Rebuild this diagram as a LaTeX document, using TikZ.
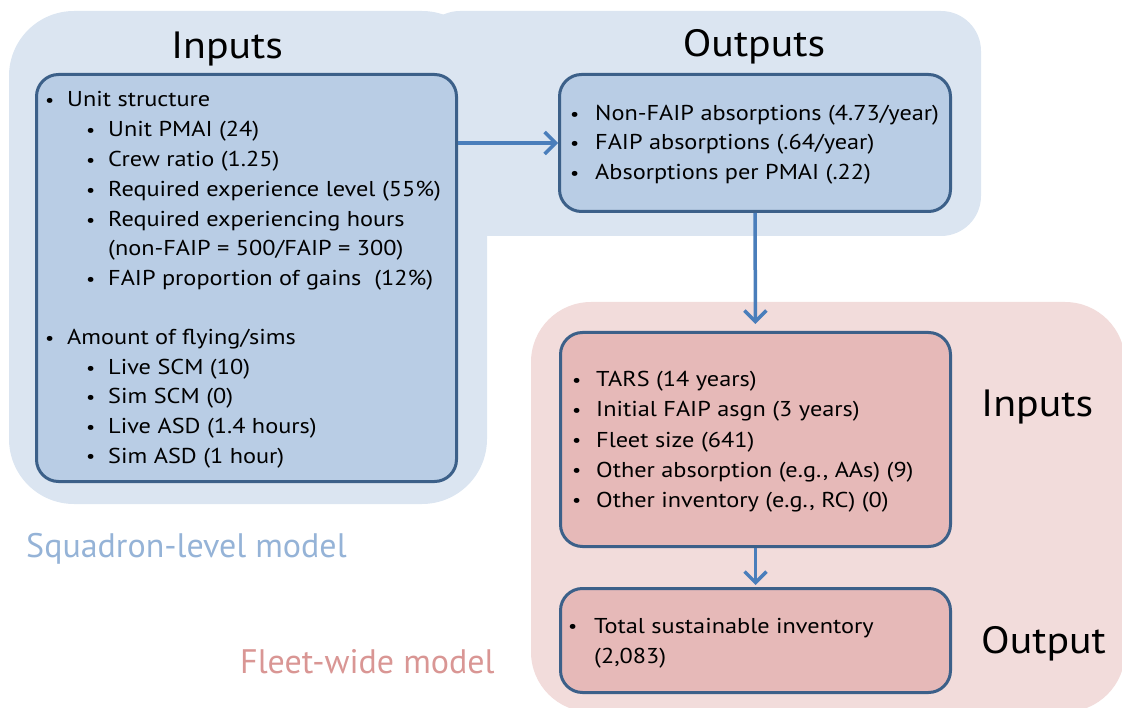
\documentclass[tikz,border=0pt]{standalone}
\usepackage{fontspec}
\setmainfont{PT Sans}
\newfontfamily\bodyfont{PT Sans}[FakeStretch=1.13]
\newfontfamily\titlefont{PT Sans}[FakeStretch=1.10]
\usetikzlibrary{arrows.meta}
\definecolor{bgblue}{HTML}{DBE5F1}
\definecolor{boxblue}{HTML}{B9CDE5}
\definecolor{edgeblue}{HTML}{3C6089}
\definecolor{arrowblue}{HTML}{4A7EBB}
\definecolor{bgpink}{HTML}{F2DCDB}
\definecolor{boxpink}{HTML}{E6B9B8}
\definecolor{lblblue}{HTML}{95B3D7}
\definecolor{lblpink}{HTML}{D99694}
\tikzset{
  panel/.style={draw=edgeblue, line width=3pt, rounded corners=22pt, inner sep=0pt, anchor=north west},
  ttl/.style={font=\titlefont\fontsize{38}{40}\selectfont, inner sep=0pt, anchor=base},
  txt/.style={font=\bodyfont\fontsize{21.5}{24}\selectfont, inner sep=0pt, anchor=base west},
  lbl/.style={font=\fontsize{34}{36}\selectfont, inner sep=0pt, anchor=base west},
  flow/.style={draw=arrowblue, line width=3.5pt, -{Straight Barb[length=11pt,width=22pt]}},
}
\newcommand{\itm}[2][22pt]{\makebox[#1][l]{\fontsize{18}{18}\selectfont\raisebox{0.5pt}{•}}#2}
\begin{document}
\begin{tikzpicture}[x=1pt,y=-1pt]
\useasboundingbox (0,0) rectangle (1122,708);
\clip (0,0) rectangle (1122,708);
% backgrounds
\fill[bgblue, rounded corners=65pt] (9,11) rectangle (487,504);
\fill[bgblue, rounded corners=40pt] (420,11) rectangle (981,236);
\fill[bgpink, rounded corners=60pt] (531,302) rectangle (1125,712);
% boxes
\node[panel, fill=boxblue, minimum width=420pt, minimum height=407pt] (inbox) at (35,73) {};
\node[panel, fill=boxblue, minimum width=391pt, minimum height=137pt] (outbox) at (558,73) {};
\node[panel, fill=boxpink, minimum width=390pt, minimum height=214pt] (finbox) at (559,331) {};
\node[panel, fill=boxpink, minimum width=390pt, minimum height=104pt] (foutbox) at (559,587) {};
% titles
\node[ttl] (t1) at (227,59) {Inputs};
\node[ttl] (t2) at (754,57) {Outputs};
\node[ttl, anchor=base west] (t3) at (981,417) {Inputs};
\node[ttl, anchor=base west] (t4) at (981,653) {Output};
\node[lbl, text=lblblue] (sq) at (26,557) {Squadron-level model};
\node[lbl, text=lblpink] (fl) at (240,673) {Fleet-wide model};
% inputs text
\node[txt] (i1) at (45,107) {\itm{Unit structure}};
\node[txt] (i2) at (86,137) {\itm{Unit PMAI (24)}};
\node[txt] (i3) at (86,167) {\itm{Crew ratio (1.25)}};
\node[txt] (i4) at (86,197) {\itm{Required experience level (55\%)}};
\node[txt] (i5) at (86,227) {\itm{Required experiencing hours}};
\node[txt] (i6) at (108,256) {(non-FAIP = 500/FAIP = 300)};
\node[txt] (i7) at (86,286) {\itm{FAIP proportion of gains \ (12\%)}};
\node[txt] (i8) at (45,345) {\itm{Amount of flying/sims}};
\node[txt] (i9) at (86,375) {\itm{Live SCM (10)}};
\node[txt] (i10) at (86,404) {\itm{Sim SCM (0)}};
\node[txt] (i11) at (86,434) {\itm{Live ASD (1.4 hours)}};
\node[txt] (i12) at (86,463) {\itm{Sim ASD (1 hour)}};
% outputs text
\node[txt] (o1) at (570,121) {\itm[25pt]{Non-FAIP absorptions (4.73/year)}};
\node[txt] (o2) at (570,150) {\itm[25pt]{FAIP absorptions (.64/year)}};
\node[txt] (o3) at (570,180) {\itm[25pt]{Absorptions per PMAI (.22)}};
% fleet inputs
\node[txt] (p1) at (572,387) {\itm[24pt]{TARS (14 years)}};
\node[txt] (p2) at (572,417) {\itm[24pt]{Initial FAIP asgn (3 years)}};
\node[txt] (p3) at (572,447) {\itm[24pt]{Fleet size (641)}};
\node[txt] (p4) at (572,477) {\itm[24pt]{Other absorption (e.g., AAs) (9)}};
\node[txt] (p5) at (572,507) {\itm[24pt]{Other inventory (e.g., RC) (0)}};
% fleet output
\node[txt] (q1) at (568,633) {\itm[26pt]{Total sustainable inventory}};
\node[txt] (q2) at (594,663) {(2,083)};
% connectors
\draw[flow] (inbox.north east |- outbox.west) -- (outbox.west);
\draw[flow, shorten >=7pt] (outbox.south) -- (finbox.north);
\draw[flow, shorten >=2pt] (finbox.south) -- (foutbox.north);
\end{tikzpicture}
\end{document}
